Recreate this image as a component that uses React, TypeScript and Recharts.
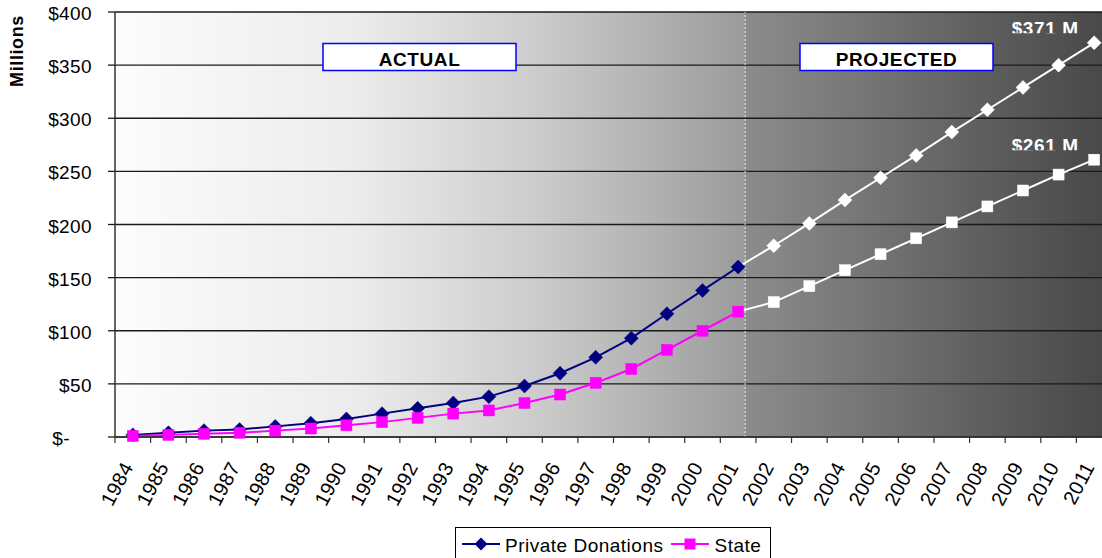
import {
  CartesianGrid,
  Legend,
  Line,
  LineChart,
  ReferenceLine,
  XAxis,
  YAxis,
} from "recharts";

const NAVY = "#000080";
const MAGENTA = "#ff00ff";
const WHITE = "#ffffff";
const FONT = "'Liberation Sans', Arial, sans-serif";

const YEARS = [
  "1984", "1985", "1986", "1987", "1988", "1989", "1990", "1991", "1992", "1993",
  "1994", "1995", "1996", "1997", "1998", "1999", "2000", "2001", "2002", "2003",
  "2004", "2005", "2006", "2007", "2008", "2009", "2010", "2011",
];

// $ millions per year
const PRIVATE_DONATIONS = [
  2, 4, 6, 7, 10, 13, 17, 22, 27, 32, 38, 48, 60, 75, 93, 116, 138, 160,
  180, 201, 223, 244, 265, 287, 308, 329, 350, 371,
];
const STATE_FUNDS = [
  1, 2, 3, 4, 6, 8, 11, 14, 18, 22, 25, 32, 40, 51, 64, 82, 100, 118,
  127, 142, 157, 172, 187, 202, 217, 232, 247, 261,
];

const LAST_ACTUAL_YEAR = "2001";
const Y_TICKS = [0, 50, 100, 150, 200, 250, 300, 350, 400];
const LEGEND_KEYS = ["privateActual", "stateActual"];

const CHART_W = 1120;
const CHART_H = 558;
const MARGIN = { top: 12, right: 8, bottom: 0, left: 0 };
const Y_AXIS_W = 115;
const X_AXIS_H = 121;
const BAND = (CHART_W - MARGIN.left - MARGIN.right - Y_AXIS_W) / YEARS.length;

const split = YEARS.indexOf(LAST_ACTUAL_YEAR);
const rows = YEARS.map((year, i) => ({
  year,
  privateActual: i <= split ? PRIVATE_DONATIONS[i] : null,
  privateProjected: i >= split ? PRIVATE_DONATIONS[i] : null,
  stateActual: i <= split ? STATE_FUNDS[i] : null,
  stateProjected: i >= split ? STATE_FUNDS[i] : null,
}));

function diamond(cx: number, cy: number, r: number) {
  return `M${cx},${cy - r}L${cx + r},${cy}L${cx},${cy + r}L${cx - r},${cy}Z`;
}

const dotMaker = (shape: "diamond" | "square", color: string, skip: number) => (p: any) => {
  const { cx, cy, index } = p;
  if (cy == null || index === skip) return <g key={`d-${index}`} />;
  if (shape === "diamond") {
    return <path key={`d-${index}`} d={diamond(cx, cy, 7)} fill={color} stroke={color} strokeWidth={0.5} />;
  }
  return <rect key={`d-${index}`} x={cx - 5.5} y={cy - 5.5} width={11} height={11} fill={color} stroke={color} strokeWidth={0.5} />;
};

// "$371 M" style tag over the last projected point, cut along its bottom edge
const endLabel = (id: string) => (p: any) => {
  const { x, y, value, index } = p;
  if (index !== YEARS.length - 1 || value == null) return <g key={`l-${index}`} />;
  return (
    <g key={`l-${index}`}>
      <defs>
        <clipPath id={id}>
          <rect x={x - 100} y={y - 40} width={100} height={30.5} />
        </clipPath>
      </defs>
      <text
        x={x - 49}
        y={y - 7.5}
        textAnchor="middle"
        fill={WHITE}
        fontFamily={FONT}
        fontWeight="bold"
        fontSize={19}
        letterSpacing={0.6}
        clipPath={`url(#${id})`}
      >
        {`$${value} M`}
      </text>
    </g>
  );
};

function DollarTick({ x, y, payload }: any) {
  const zero = payload.value === 0;
  return (
    <text
      x={zero ? x - 22 : x}
      y={y + 8}
      textAnchor="end"
      fill="#000"
      fontFamily={FONT}
      fontSize={19}
      letterSpacing={0.4}
    >
      {zero ? "$-" : `$${payload.value}`}
    </text>
  );
}

function YearTick({ x, y, payload }: any) {
  return (
    <g>
      <line x1={x - BAND / 2} x2={x - BAND / 2} y1={y} y2={y + 6} stroke="#333" strokeWidth={1.2} />
      <text
        transform={`translate(${x + 1},${y + 30}) rotate(-62)`}
        textAnchor="end"
        fill="#000"
        fontFamily={FONT}
        fontSize={20}
        letterSpacing={0.3}
      >
        {payload.value}
      </text>
    </g>
  );
}

function LegendBox({ payload }: any) {
  const items = (payload || []).filter((item: any) => LEGEND_KEYS.includes(item.dataKey));
  return (
    <div
      style={{
        boxSizing: "border-box",
        height: 40,
        border: "1px solid #000",
        background: "#fff",
        display: "flex",
        alignItems: "flex-start",
        paddingLeft: 6,
        paddingTop: 7,
        fontFamily: FONT,
        fontSize: 19,
        letterSpacing: 0.5,
        lineHeight: "22px",
        color: "#000",
        whiteSpace: "nowrap",
      }}
    >
      {items.map((item: any) => (
        <div key={item.dataKey} style={{ display: "flex", alignItems: "flex-start", marginRight: 8 }}>
          <svg width={38} height={22}>
            <line x1={0} x2={38} y1={9} y2={9} stroke={item.color} strokeWidth={2} />
            {item.dataKey === "privateActual" ? (
              <path d={diamond(19, 9, 6.5)} fill={item.color} />
            ) : (
              <rect x={13.5} y={3.5} width={11} height={11} fill={item.color} />
            )}
          </svg>
          <span style={{ marginLeft: 5 }}>{item.value}</span>
        </div>
      ))}
    </div>
  );
}

export default function App() {
  return (
    <div style={{ position: "absolute", left: 0, top: 0, width: 1102, height: 558, overflow: "hidden", background: "#fff" }}>
      <LineChart width={CHART_W} height={CHART_H} data={rows} margin={MARGIN}>
        <defs>
          <linearGradient id="plotBg" x1="0" y1="0" x2="1" y2="0">
            <stop offset="0" stopColor="#fcfcfc" />
            <stop offset="0.241" stopColor="#ececec" />
            <stop offset="0.433" stopColor="#cacaca" />
            <stop offset="0.562" stopColor="#acacac" />
            <stop offset="0.631" stopColor="#9b9b9b" />
            <stop offset="0.632" stopColor="#8c8c8c" />
            <stop offset="0.754" stopColor="#757575" />
            <stop offset="0.883" stopColor="#5c5c5c" />
            <stop offset="1" stopColor="#474747" />
          </linearGradient>
        </defs>
        <CartesianGrid vertical={false} stroke="#1a1a1a" strokeWidth={1.3} fill="url(#plotBg)" fillOpacity={1} />
        <XAxis
          dataKey="year"
          interval={0}
          height={X_AXIS_H}
          padding={{ left: BAND / 2, right: BAND / 2 }}
          tickSize={0}
          tickMargin={0}
          tickLine={false}
          tick={<YearTick />}
          axisLine={{ stroke: "#333", strokeWidth: 1.5 }}
        />
        <YAxis
          width={Y_AXIS_W}
          domain={[0, 400]}
          ticks={Y_TICKS}
          interval={0}
          tickSize={7}
          tickMargin={16}
          tick={<DollarTick />}
          tickLine={{ stroke: "#1a1a1a", strokeWidth: 1.3 }}
          axisLine={{ stroke: "#333", strokeWidth: 1.5 }}
          label={{
            content: () => (
              <text
                transform="translate(23,51) rotate(-90)"
                textAnchor="middle"
                fill="#000"
                fontFamily={FONT}
                fontWeight="bold"
                fontSize={18}
                letterSpacing={0.6}
              >
                Millions
              </text>
            ),
          }}
        />
        <ReferenceLine
          x={LAST_ACTUAL_YEAR}
          stroke={WHITE}
          strokeDasharray="2 2"
          shape={(p: any) => (
            <line x1={p.x1 + 7} x2={p.x2 + 7} y1={p.y1} y2={p.y2} stroke="#f4f4f4" strokeWidth={1} strokeDasharray="2 2" />
          )}
        />

        <g>
          <rect x={323} y={43.5} width={193} height={27} fill="#fff" stroke="#0000ff" strokeWidth={1.5} />
          <text x={419.5} y={66} textAnchor="middle" fontFamily={FONT} fontWeight="bold" fontSize={19} letterSpacing={0.6} fill="#000">
            ACTUAL
          </text>
          <rect x={800} y={43.5} width={193} height={27} fill="#fff" stroke="#0000ff" strokeWidth={1.5} />
          <text x={896.5} y={66} textAnchor="middle" fontFamily={FONT} fontWeight="bold" fontSize={19} letterSpacing={0.6} fill="#000">
            PROJECTED
          </text>
        </g>

        <Line
          dataKey="privateProjected"
          stroke={WHITE}
          strokeWidth={2}
          dot={dotMaker("diamond", WHITE, split)}
          label={endLabel("clipPrivate")}
          legendType="none"
          isAnimationActive={false}
        />
        <Line
          dataKey="stateProjected"
          stroke={WHITE}
          strokeWidth={2}
          dot={dotMaker("square", WHITE, split)}
          label={endLabel("clipState")}
          legendType="none"
          isAnimationActive={false}
        />
        <Line
          dataKey="privateActual"
          name="Private Donations"
          stroke={NAVY}
          strokeWidth={2}
          dot={dotMaker("diamond", NAVY, -1)}
          isAnimationActive={false}
        />
        <Line
          dataKey="stateActual"
          name="State"
          stroke={MAGENTA}
          strokeWidth={2}
          dot={dotMaker("square", MAGENTA, -1)}
          isAnimationActive={false}
        />
        <Legend
          layout="horizontal"
          verticalAlign="middle"
          align="center"
          content={<LegendBox />}
          wrapperStyle={{ left: 455, top: 527, width: 316, height: 40 }}
        />
      </LineChart>
    </div>
  );
}
